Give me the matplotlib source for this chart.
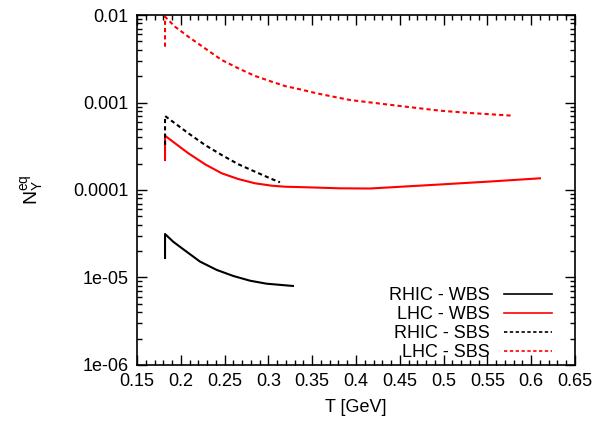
import numpy as np
import matplotlib
matplotlib.use("Agg")
import matplotlib.pyplot as plt
from matplotlib.ticker import MultipleLocator, LogLocator, NullFormatter

plt.rcParams['font.family'] = ['Liberation Sans', 'DejaVu Sans']
plt.rcParams['mathtext.default'] = 'regular'

# RHIC - WBS
rhic_wbs_T = [0.182, 0.182, 0.1914, 0.2029, 0.2219, 0.241, 0.260, 0.279, 0.298, 0.328]
rhic_wbs_N = [1.67e-5, 3.14e-5, 2.56e-5, 2.10e-5, 1.52e-5, 1.22e-5, 1.04e-5, 9.19e-6, 8.49e-6, 8.0e-6]

# LHC - WBS
lhc_wbs_T = [0.182, 0.182, 0.1934, 0.2086, 0.2276, 0.2467, 0.2656, 0.2847, 0.3038, 0.319,
             0.3437, 0.3817, 0.416, 0.4959, 0.553, 0.610]
lhc_wbs_N = [2.20e-4, 4.17e-4, 3.42e-4, 2.63e-4, 1.97e-4, 1.552e-4, 1.335e-4, 1.193e-4, 1.12e-4, 1.09e-4,
             1.074e-4, 1.045e-4, 1.04e-4, 1.156e-4, 1.25e-4, 1.36e-4]

# RHIC - SBS
rhic_sbs_T = [0.182, 0.182, 0.1934, 0.2086, 0.2276, 0.2467, 0.2656, 0.2847, 0.3038, 0.3132]
rhic_sbs_N = [3.27e-4, 7.01e-4, 5.78e-4, 4.45e-4, 3.27e-4, 2.51e-4, 1.97e-4, 1.62e-4, 1.335e-4, 1.225e-4]

# LHC - SBS
lhc_sbs_T = [0.182, 0.182, 0.1934, 0.2086, 0.2276, 0.2467, 0.2656, 0.2847, 0.3038, 0.319,
             0.3361, 0.3551, 0.3741, 0.3932, 0.4502, 0.4959, 0.5301, 0.5792]
lhc_sbs_N = [4.34e-3, 9.56e-3, 7.35e-3, 5.65e-3, 4.16e-3, 3.06e-3, 2.46e-3, 2.01e-3, 1.73e-3, 1.54e-3,
             1.415e-3, 1.273e-3, 1.165e-3, 1.068e-3, 9.12e-4, 8.06e-4, 7.59e-4, 7.06e-4]

ytick_vals = [1e-6, 1e-5, 1e-4, 1e-3, 1e-2]
ytick_labels = ['1e-06', '1e-05', '0.0001', '0.001', '0.01']
xtick_vals = [0.15, 0.2, 0.25, 0.3, 0.35, 0.4, 0.45, 0.5, 0.55, 0.6, 0.65]
xtick_labels = ['0.15', '0.2', '0.25', '0.3', '0.35', '0.4', '0.45', '0.5', '0.55', '0.6', '0.65']

FS = 13

fig = plt.figure(figsize=(6.07, 4.24), dpi=100)
ax = fig.add_axes([0.2257, 0.1392, 0.7216, 0.8254])

dash = (2.0, 1.5)
ax.plot(rhic_wbs_T, rhic_wbs_N, color='black', lw=1.5, label='RHIC - WBS')
ax.plot(lhc_wbs_T, lhc_wbs_N, color='red', lw=1.5, label='LHC - WBS')
ax.plot(rhic_sbs_T, rhic_sbs_N, color='black', lw=1.5, dashes=dash, label='RHIC - SBS')
ax.plot(lhc_sbs_T, lhc_sbs_N, color='red', lw=1.5, dashes=dash, label='LHC - SBS')

ax.set_yscale('log')
ax.set_xlim(0.15, 0.65)
ax.set_ylim(1e-6, 1e-2)

ax.set_xticks(xtick_vals)
ax.set_xticklabels(xtick_labels)
ax.xaxis.set_minor_locator(MultipleLocator(0.01))
ax.set_yticks(ytick_vals)
ax.set_yticklabels(ytick_labels)
ax.yaxis.set_minor_locator(LogLocator(base=10, subs=np.arange(2, 10)))
ax.yaxis.set_minor_formatter(NullFormatter())

ax.tick_params(which='both', direction='in', top=True, right=True, labelsize=FS, width=1)
ax.tick_params(which='major', length=7, pad=6)
ax.tick_params(which='minor', length=3.5)
for s in ax.spines.values():
    s.set_linewidth(1.2)

ax.set_xlabel('T [GeV]', fontsize=FS, labelpad=6)
ax.set_ylabel(r'$\mathregular{N_{\Upsilon}^{eq}}$', fontsize=FS + 1, labelpad=20)

leg = ax.legend(loc='lower right', bbox_to_anchor=(0.968, -0.014), frameon=False, markerfirst=False,
                fontsize=FS, handlelength=2.65, handletextpad=0.8, labelspacing=0.1, borderpad=0)
for line in leg.get_lines():
    line.set_linewidth(1.2)

fig.savefig('out.png', dpi=100)
